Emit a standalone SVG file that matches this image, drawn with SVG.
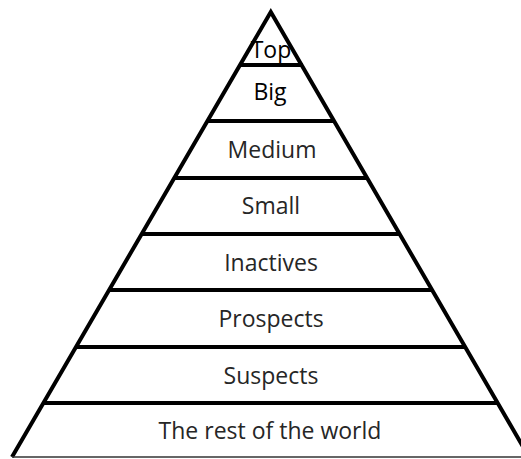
<svg xmlns="http://www.w3.org/2000/svg" width="521" height="459" viewBox="0 0 521 459">
<style>
.edge{stroke:#000;stroke-width:4;fill:none;stroke-linejoin:miter;stroke-miterlimit:10}
.band{stroke:#000;stroke-width:4}
.lbl{font-family:"Open Sans","Noto Sans",sans-serif;font-size:23px;fill:#262626;text-anchor:middle}
.dark{fill:#000}
</style>
<rect width="521" height="459" fill="#fff"/>
<g id="connectors">
<polyline class="edge" points="12,457 270.8,12 529,457"/>
<line x1="12" y1="457" x2="521" y2="457" stroke="#333" stroke-width="1.5"/>
<line class="band" x1="239" y1="65" x2="303" y2="65"/>
<line class="band" x1="207" y1="121" x2="334" y2="121"/>
<line class="band" x1="174" y1="178" x2="367" y2="178"/>
<line class="band" x1="142" y1="234" x2="400" y2="234"/>
<line class="band" x1="109" y1="290" x2="433" y2="290"/>
<line class="band" x1="77" y1="347" x2="465" y2="347"/>
<line class="band" x1="44" y1="403" x2="498" y2="403"/>
</g>
<g id="top"><text class="lbl dark" x="271" y="58">Top</text></g>
<g id="big"><text class="lbl dark" x="270" y="100">Big</text></g>
<g id="medium"><text class="lbl" x="272" y="158">Medium</text></g>
<g id="small"><text class="lbl" x="271" y="214">Small</text></g>
<g id="inactives"><text class="lbl" x="271" y="271">Inactives</text></g>
<g id="prospects"><text class="lbl" x="271" y="327">Prospects</text></g>
<g id="suspects"><text class="lbl" x="271" y="384">Suspects</text></g>
<g id="rest"><text class="lbl" x="270" y="439">The rest of the world</text></g>
</svg>
